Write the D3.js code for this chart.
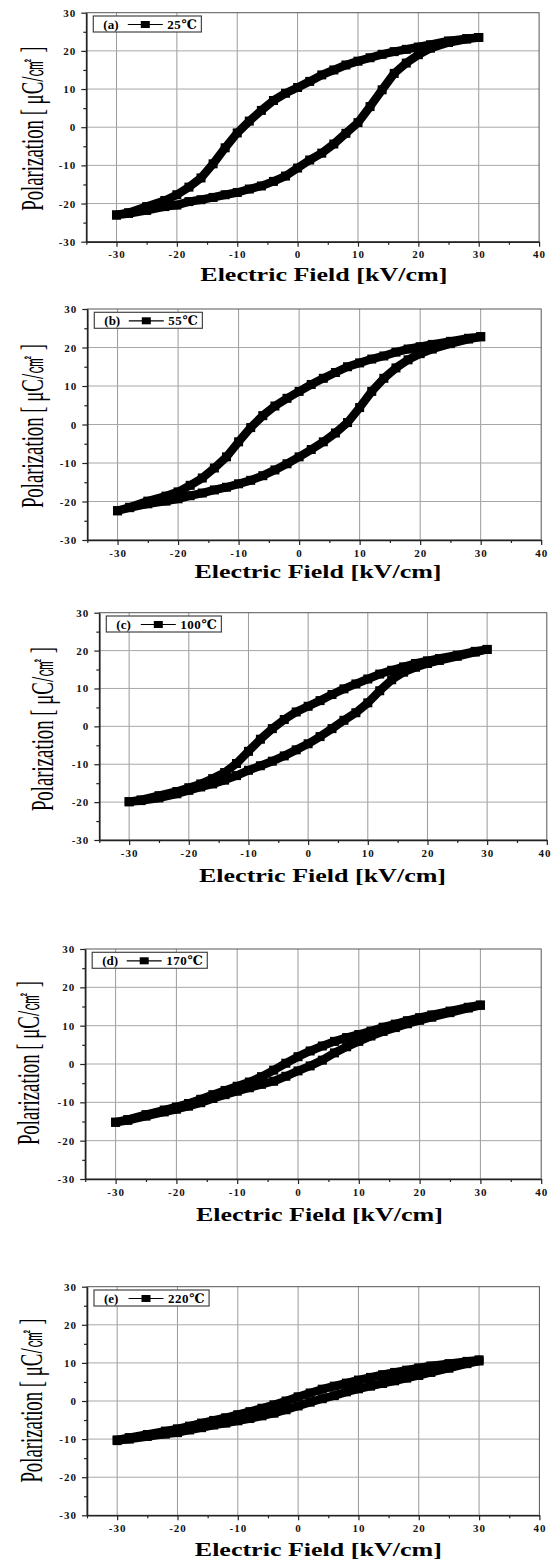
<!DOCTYPE html>
<html>
<head>
<meta charset="utf-8">
<script src="https://cdn.jsdelivr.net/npm/d3@7"></script>
<style>
  body { margin: 0; background: #fff; }
  svg text { font-family: "Liberation Serif", "DejaVu Serif", serif; }
</style>
</head>
<body>
<svg id="chart" width="552" height="1563"></svg>
<script>
// field values (kV/cm) shared by every sweep
var field = [-30, -28, -25, -22, -20, -18, -16, -14, -12, -10, -8, -6, -4, -2, 0,
             2, 4, 6, 8, 10, 12, 14, 16, 18, 20, 22, 25, 28, 30];

var panelTags = ["(a)", "(b)", "(c)", "(d)", "(e)"];
var temps = ["25℃", "55℃", "100℃", "170℃", "220℃"];

// polarization (uC/cm2): rising = field going up, falling = field coming down
var risingA  = [-23, -22.6, -21.8, -20.8, -20.4, -19.5, -19.0, -18.4, -17.7, -17.1, -16.2, -15.4, -14.2, -12.8, -10.7,
                -8.6, -6.8, -4.4, -1.6, 1.2, 5.4, 9.8, 14.1, 16.8, 19.0, 20.7, 22.2, 23.1, 23.5];
var fallingA = [-23, -22.4, -20.8, -19.2, -17.7, -15.7, -13.3, -9.6, -5.4, -1.5, 1.6, 4.4, 7.0, 8.9, 10.4,
                12.0, 13.7, 15.0, 16.3, 17.3, 18.2, 19.1, 19.8, 20.4, 21.0, 21.6, 22.6, 23.2, 23.5];

var risingB  = [-22.4, -21.6, -20.6, -19.9, -19.3, -18.5, -17.8, -17.0, -16.3, -15.4, -14.5, -13.3, -11.8, -10.2, -8.4,
                -6.5, -4.5, -2.2, 0.5, 4.4, 8.6, 12.0, 14.7, 16.8, 18.4, 19.6, 21.0, 22.2, 22.8];
var fallingB = [-22.4, -21.5, -19.9, -18.6, -17.5, -15.8, -13.9, -11.3, -8.4, -4.5, -0.8, 2.3, 4.8, 6.8, 8.6,
                10.4, 12.0, 13.5, 15.0, 16.0, 17.0, 17.8, 18.8, 19.6, 20.2, 20.8, 21.6, 22.4, 22.8];

var risingC  = [-19.9, -19.6, -18.9, -17.8, -16.9, -16.0, -15.2, -14.2, -13.0, -11.6, -10.4, -9.2, -7.8, -6.2, -4.6,
                -2.7, -0.6, 1.6, 3.6, 6.2, 9.4, 12.3, 14.3, 15.6, 16.6, 17.4, 18.5, 19.6, 20.3];
var fallingC = [-19.9, -19.4, -18.3, -17.2, -16.2, -15.2, -13.8, -12.2, -9.8, -6.6, -3.4, -0.6, 1.8, 3.8, 5.3,
                6.8, 8.4, 9.9, 11.2, 12.5, 13.8, 14.8, 15.7, 16.6, 17.3, 17.9, 18.8, 19.8, 20.3];

var risingD  = [-15.2, -14.7, -13.6, -12.5, -11.8, -11.0, -10.1, -9.0, -8.0, -7.1, -6.2, -5.3, -4.5, -3.2, -1.8,
                -0.5, 1.0, 2.9, 4.5, 5.9, 7.3, 8.5, 9.5, 10.5, 11.4, 12.2, 13.4, 14.6, 15.3];
var fallingD = [-15.2, -14.5, -13.2, -12.0, -11.2, -10.3, -9.2, -8.0, -6.9, -5.8, -4.7, -3.3, -1.6, 0.2, 1.9,
                3.4, 4.7, 5.9, 6.9, 7.7, 8.6, 9.6, 10.4, 11.3, 12.1, 12.8, 13.8, 14.8, 15.4];

var risingE  = [-10.4, -10.0, -9.3, -8.7, -8.3, -7.6, -7.0, -6.3, -5.8, -5.2, -4.6, -3.9, -3.2, -2.3, -1.3,
                -0.3, 0.6, 1.4, 2.4, 3.2, 3.9, 4.6, 5.3, 6.0, 6.7, 7.5, 8.6, 9.8, 10.5];
var fallingE = [-10.2, -9.6, -8.8, -7.9, -7.3, -6.6, -5.8, -5.1, -4.4, -3.6, -2.8, -1.9, -1.0, 0.0, 1.1,
                2.1, 3.1, 3.9, 4.7, 5.5, 6.2, 6.9, 7.5, 8.1, 8.7, 9.2, 9.8, 10.4, 10.8];

var risingAll = [risingA, risingB, risingC, risingD, risingE];
var fallingAll = [fallingA, fallingB, fallingC, fallingD, fallingE];

var xMajor = [-30, -20, -10, 0, 10, 20, 30, 40];
var xMinor = [-35, -25, -15, -5, 5, 15, 25, 35];
var yMajor = [-30, -20, -10, 0, 10, 20, 30];
var yMinor = [-25, -15, -5, 5, 15, 25];

// where each panel sits on the page
var panels = [
  {left: 86.3, right: 539.1, top: 12.7,  bottom: 241.7,  xlx: 323.8, xly: 280.7,  ylx: 42.7, yly: 128.7},
  {left: 87.3, right: 541.2, top: 309,   bottom: 540,    xlx: 318,   xly: 578.3,  ylx: 43,   yly: 426},
  {left: 99.3, right: 546.8, top: 612.7, bottom: 840,    xlx: 322.5, xly: 881.7,  ylx: 52.8, yly: 729},
  {left: 85.2, right: 541.2, top: 949,   bottom: 1179,   xlx: 319.4, xly: 1220.7, ylx: 39.4, yly: 1063},
  {left: 87,   right: 539.4, top: 1286.7, bottom: 1515.3, xlx: 318.3, xly: 1556,  ylx: 41.5, yly: 1400.5}
];

var svg = d3.select("#chart");

panels.forEach(function(p, k) {
  drawPanel(p, k);
});

function drawPanel(p, k) {
  var x = d3.scaleLinear().domain([-35, 40]).range([p.left, p.right]);
  var y = d3.scaleLinear().domain([-30, 30]).range([p.bottom, p.top]);
  var g = svg.append("g").attr("class", "panel");

  // grid
  g.selectAll(".vgrid")
      .data(xMajor.filter(function(v) { return v < 40; }))
      .enter().append("line")
      .attr("x1", function(d) { return x(d); })
      .attr("x2", function(d) { return x(d); })
      .attr("y1", p.top).attr("y2", p.bottom)
      .attr("stroke", "#9a9a9a").attr("stroke-width", 1);
  g.selectAll(".hgrid")
      .data(yMajor.filter(function(v) { return v > -30 && v < 30; }))
      .enter().append("line")
      .attr("y1", function(d) { return y(d); })
      .attr("y2", function(d) { return y(d); })
      .attr("x1", p.left).attr("x2", p.right)
      .attr("stroke", "#a8a8a8").attr("stroke-width", 1);

  // frame
  g.append("rect")
      .attr("x", p.left).attr("y", p.top)
      .attr("width", p.right - p.left).attr("height", p.bottom - p.top)
      .attr("fill", "none").attr("stroke", "#555").attr("stroke-width", 1);

  // axes
  var gx = g.append("g").attr("transform", "translate(0," + p.bottom + ")")
      .call(d3.axisBottom(x).tickValues(xMajor).tickSize(5).tickSizeOuter(0)
              .tickFormat(function(d) { return String(d); }));
  gx.selectAll("text").attr("y", 16.5).attr("dy", 0);
  // keep the last label inside the page where the panel runs to the edge
  if (p.right > 544) {
    gx.selectAll("text").filter(function(d) { return d === 40; })
        .attr("text-anchor", "end").attr("x", 551 - p.right);
  }
  g.append("g").attr("transform", "translate(0," + p.bottom + ")")
      .call(d3.axisBottom(x).tickValues(xMinor).tickSize(3).tickFormat(""))
      .select(".domain").remove();

  var gy = g.append("g").attr("transform", "translate(" + p.left + ",0)")
      .call(d3.axisLeft(y).tickValues(yMajor).tickSize(5).tickSizeOuter(0).tickPadding(5)
              .tickFormat(function(d) { return String(d); }));
  g.append("g").attr("transform", "translate(" + p.left + ",0)")
      .call(d3.axisLeft(y).tickValues(yMinor).tickSize(3).tickFormat(""))
      .select(".domain").remove();

  g.selectAll(".domain").attr("stroke", "#222").attr("stroke-width", 1.6);
  g.selectAll(".tick line").attr("stroke", "#222").attr("stroke-width", 1.2);
  g.selectAll(".tick text")
      .attr("fill", "#111")
      .style("font-family", "'Liberation Serif', serif")
      .style("font-weight", "bold")
      .style("font-size", "11px")
      .style("letter-spacing", "1px");

  // hysteresis loop: rising sweep then falling sweep back
  var rising = risingAll[k], falling = fallingAll[k];
  var pts = field.map(function(e, i) { return [e, rising[i]]; });
  var back = field.map(function(e, i) { return [e, falling[i]]; }).reverse();
  var loop = pts.concat(back);

  var line = d3.line()
      .x(function(d) { return x(d[0]); })
      .y(function(d) { return y(d[1]); });

  g.append("path")
      .datum(loop)
      .attr("d", line)
      .attr("fill", "none")
      .attr("stroke", "#000")
      .attr("stroke-width", 8.5)
      .attr("stroke-linejoin", "round");

  g.selectAll(".pt")
      .data(loop)
      .enter().append("rect")
      .attr("class", "pt")
      .attr("x", function(d) { return x(d[0]) - 4.5; })
      .attr("y", function(d) { return y(d[1]) - 4.5; })
      .attr("width", 9).attr("height", 9)
      .attr("fill", "#000");

  // legend
  var lg = g.append("g").attr("transform", "translate(" + (p.left + 7) + "," + (p.top + 3.3) + ")");
  var box = lg.append("rect")
      .attr("x", 0).attr("y", 0).attr("height", 16)
      .attr("fill", "#fff").attr("stroke", "#444").attr("stroke-width", 1.2);
  lg.append("text")
      .attr("x", 10).attr("y", 13)
      .style("font-weight", "bold").style("font-size", "13px")
      .text(panelTags[k]);
  lg.append("line")
      .attr("x1", 34.5).attr("x2", 69.5).attr("y1", 8.5).attr("y2", 8.5)
      .attr("stroke", "#000").attr("stroke-width", 1.2);
  lg.append("rect")
      .attr("x", 47.5).attr("y", 5).attr("width", 9).attr("height", 7)
      .attr("fill", "#000");
  var tt = lg.append("text")
      .attr("x", 74).attr("y", 13)
      .style("font-weight", "bold").style("font-size", "13px")
      .style("letter-spacing", "0.5px")
      .text(temps[k]);
  var bb = tt.node().getBBox();
  box.attr("width", bb.x + bb.width + 4);

  // axis titles
  g.append("text")
      .attr("x", p.xlx).attr("y", p.xly)
      .attr("text-anchor", "middle")
      .attr("textLength", 247)
      .attr("lengthAdjust", "spacingAndGlyphs")
      .style("font-weight", "bold").style("font-size", "19px")
      .text("Electric Field [kV/cm]");

  // narrow, tall y title: squeeze it along its length with a scale
  var yt = g.append("text")
      .attr("text-anchor", "middle")
      .style("font-size", "31px")
      .text("Polarization [ μC/㎠ ]");
  var natural = yt.node().getComputedTextLength();
  yt.attr("transform", "translate(" + p.ylx + "," + p.yly + ") rotate(-90) scale(" + (164 / natural) + ",1)");
}
</script>
</body>
</html>
